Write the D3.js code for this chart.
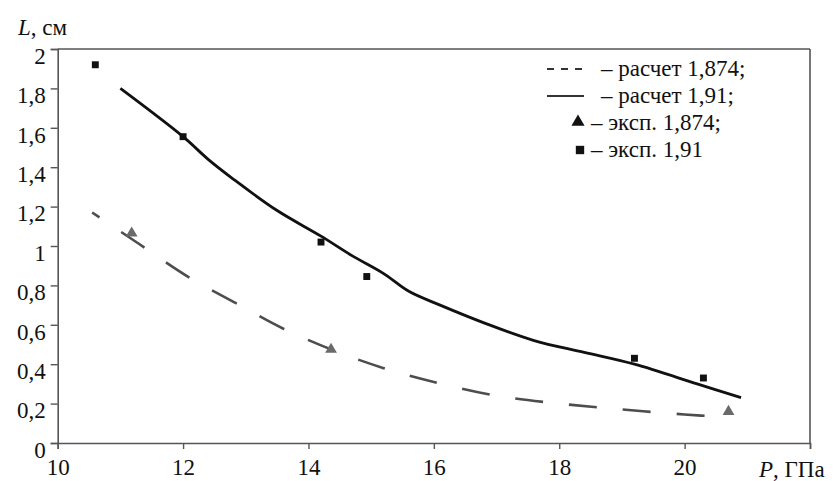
<!DOCTYPE html>
<html>
<head>
<meta charset="utf-8">
<script src="https://cdn.jsdelivr.net/npm/d3@7/dist/d3.min.js"></script>
<style>
  body { margin: 0; background: #fff; }
</style>
</head>
<body>
<div id="chart"></div>
<script>
// расчет 1,91 (сплошная)
var calcP191 = [11, 12, 12.4, 12.8, 13.5, 14.2, 14.7, 15.2, 15.6, 16.1, 16.8, 17.6, 18.4, 19.2, 20.2, 20.9];
var calcL191 = [1.80, 1.555, 1.44, 1.34, 1.18, 1.05, 0.95, 0.86, 0.77, 0.70, 0.61, 0.52, 0.46, 0.40, 0.30, 0.23];

// расчет 1,874 (штриховая)
var calcP1874 = [10.55, 11.3, 12.1, 12.9, 13.6, 14.4, 15.2, 16.0, 17.0, 18.0, 19.0, 20.0, 20.7];
var calcL1874 = [1.17, 1.01, 0.84, 0.70, 0.58, 0.47, 0.38, 0.31, 0.24, 0.20, 0.17, 0.145, 0.13];

// эксперимент
var expP191 = [10.6, 12.0, 14.2, 14.93, 19.2, 20.3];
var expL191 = [1.92, 1.555, 1.02, 0.845, 0.43, 0.33];
var expP1874 = [11.18, 14.36, 20.7];
var expL1874 = [1.065, 0.475, 0.16];

var xTicks = [10, 12, 14, 16, 18, 20, 22];
var xTickLabels = ["10", "12", "14", "16", "18", "20", ""];
var yTicks = [0, 0.2, 0.4, 0.6, 0.8, 1, 1.2, 1.4, 1.6, 1.8, 2];
var yTickLabels = ["0", "0,2", "0,4", "0,6", "0,8", "1", "1,2", "1,4", "1,6", "1,8", "2"];
var legendLabels = ["– расчет 1,874;", "– расчет 1,91;", "– эксп. 1,874;", "– эксп. 1,91"];

var width = 839, height = 481;
var serif = "Liberation Serif, DejaVu Serif, serif";

var svg = d3.select("#chart").append("svg")
  .attr("width", width)
  .attr("height", height)
  .attr("font-family", serif);

var x = d3.scaleLinear().domain([10, 22]).range([57.7, 810]);
var y = d3.scaleLinear().domain([0, 2]).range([443, 49]);

var axisColor = "#555";

// рамка
svg.append("line")
  .attr("x1", x(10)).attr("x2", x(22))
  .attr("y1", y(2)).attr("y2", y(2))
  .attr("stroke", axisColor).attr("stroke-width", 1.6);
svg.append("line")
  .attr("x1", x(22)).attr("x2", x(22))
  .attr("y1", y(2)).attr("y2", y(0))
  .attr("stroke", axisColor).attr("stroke-width", 1.6);

var xAxis = svg.append("g")
  .attr("transform", "translate(0," + y(0) + ")")
  .call(d3.axisBottom(x).tickValues(xTicks).tickSize(6).tickPadding(4)
    .tickFormat(function(d, i) { return xTickLabels[i]; }));

var yAxis = svg.append("g")
  .attr("transform", "translate(" + x(10) + ",0)")
  .call(d3.axisLeft(y).tickValues(yTicks).tickSize(7).tickPadding(5)
    .tickFormat(function(d, i) { return yTickLabels[i]; }));

[xAxis, yAxis].forEach(function(ax) {
  ax.attr("font-family", serif).attr("font-size", 23);
  ax.select(".domain").attr("stroke", axisColor).attr("stroke-width", 1.6);
  ax.selectAll(".tick line").attr("stroke", axisColor).attr("stroke-width", 1.4);
  ax.selectAll("text").attr("fill", "#111");
});
xAxis.selectAll("text").attr("y", 16);
yAxis.selectAll("text").attr("y", 7);

// подписи осей
var lLabel = svg.append("text").attr("x", 18).attr("y", 35)
  .attr("font-size", 23).attr("fill", "#111");
lLabel.append("tspan").attr("font-style", "italic").text("L");
lLabel.append("tspan").text(", см");

var pLabel = svg.append("text").attr("x", 759).attr("y", 477)
  .attr("font-size", 23).attr("fill", "#111");
pLabel.append("tspan").attr("font-style", "italic").text("P");
pLabel.append("tspan").text(", ГПа");

var line = d3.line()
  .x(function(d) { return x(d[0]); })
  .y(function(d) { return y(d[1]); })
  .curve(d3.curveCatmullRom.alpha(0.5));

svg.append("path")
  .datum(d3.zip(calcP1874, calcL1874))
  .attr("d", line)
  .attr("fill", "none")
  .attr("stroke", "#4d4d4d")
  .attr("stroke-width", 2.6)
  .attr("stroke-dasharray", "28,26")
  .attr("stroke-dashoffset", 19);

svg.append("path")
  .datum(d3.zip(calcP191, calcL191))
  .attr("d", line)
  .attr("fill", "none")
  .attr("stroke", "#111")
  .attr("stroke-width", 2.8);

svg.selectAll(".tri")
  .data(d3.zip(expP1874, expL1874))
  .enter().append("path")
  .attr("class", "tri")
  .attr("transform", function(d) { return "translate(" + x(d[0]) + "," + y(d[1]) + ")"; })
  .attr("d", d3.symbol().type(d3.symbolTriangle).size(60))
  .attr("fill", "#6a6a6a");

svg.selectAll(".sq")
  .data(d3.zip(expP191, expL191))
  .enter().append("path")
  .attr("class", "sq")
  .attr("transform", function(d) { return "translate(" + x(d[0]) + "," + y(d[1]) + ")"; })
  .attr("d", d3.symbol().type(d3.symbolSquare).size(48))
  .attr("fill", "#111");

// легенда
var legendY = [69, 96, 123, 150];
var lg = svg.append("g");

lg.append("line")
  .attr("x1", 547).attr("x2", 584).attr("y1", legendY[0]).attr("y2", legendY[0])
  .attr("stroke", "#333").attr("stroke-width", 2).attr("stroke-dasharray", "7,7");
lg.append("line")
  .attr("x1", 547).attr("x2", 584).attr("y1", legendY[1]).attr("y2", legendY[1])
  .attr("stroke", "#333").attr("stroke-width", 2);
lg.append("path")
  .attr("transform", "translate(578," + (legendY[2] - 1) + ")")
  .attr("d", d3.symbol().type(d3.symbolTriangle).size(75))
  .attr("fill", "#111");
lg.append("path")
  .attr("transform", "translate(580," + legendY[3] + ")")
  .attr("d", d3.symbol().type(d3.symbolSquare).size(70))
  .attr("fill", "#111");

lg.selectAll(".lt")
  .data(legendLabels)
  .enter().append("text")
  .attr("class", "lt")
  .attr("x", function(d, i) { return i < 2 ? 601 : 591; })
  .attr("y", function(d, i) { return legendY[i] + 7; })
  .attr("font-size", 23)
  .attr("fill", "#111")
  .text(function(d) { return d; });
</script>
</body>
</html>
